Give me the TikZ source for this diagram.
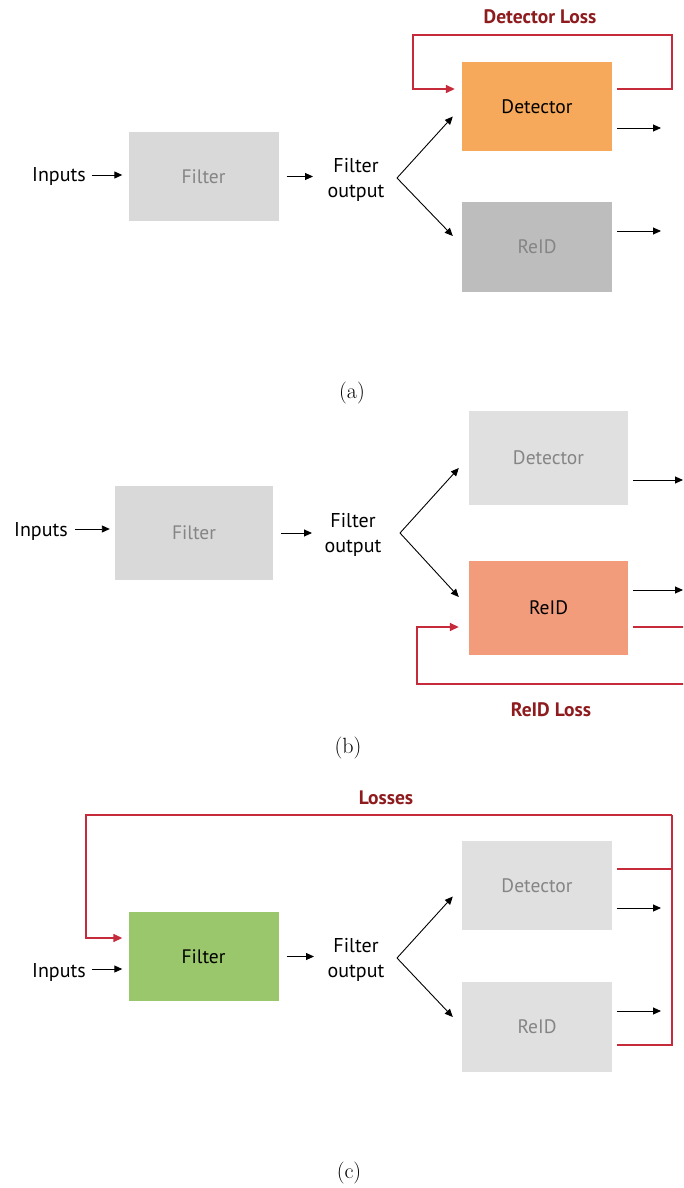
\documentclass[tikz,border=0pt]{standalone}
\usepackage{fontspec}
\newfontfamily\labelfont{PT Sans}
\usetikzlibrary{arrows.meta,calc}
\definecolor{boxgray}{HTML}{D9D9D9}
\definecolor{boxlight}{HTML}{E0E0E0}
\definecolor{boxmid}{HTML}{BDBDBD}
\definecolor{txtgray}{HTML}{858585}
\definecolor{detorange}{HTML}{F6A95A}
\definecolor{reidsalmon}{HTML}{F29C7C}
\definecolor{filtgreen}{HTML}{9BC76C}
\definecolor{lossred}{HTML}{C62B3C}
\definecolor{losslabel}{HTML}{8E1B1E}
\tikzset{
  block/.style={rectangle, draw=none, minimum width=150pt, minimum height=89pt, inner sep=0pt,
                font=\labelfont\fontsize{19.5}{22}\selectfont},
  lbl/.style={inner sep=0pt, font=\labelfont\fontsize{20}{25}\selectfont, align=center},
  losstext/.style={inner sep=0pt, font=\labelfont\bfseries\fontsize{19.5}{22}\selectfont, text=losslabel},
  captext/.style={inner sep=0pt, font=\fontsize{22}{26}\selectfont},
  arr/.style={draw=black, line width=0.9pt, -{Triangle[length=8pt,width=7pt]}},
  branch/.style={draw=black, line width=0.9pt, -{Triangle[length=8pt,width=7pt]}},
  loss/.style={draw=lossred, line width=1.5pt},
  lossarr/.style={draw=lossred, line width=1.5pt, -{Triangle[length=9pt,width=8pt]}},
}
\begin{document}
\begin{tikzpicture}[x=1pt,y=-1pt]
\useasboundingbox (0,0) rectangle (683,1188);

%% ---------------- (a) detector trained ----------------
\node[lbl] (inA) at (59,176) {Inputs};
\node[block, fill=boxgray, text=txtgray] (filA) at (203.5,176.5) {Filter};
\node[lbl] (outA) at (356,179.5) {Filter\\output};
\node[block, fill=detorange, text=black] (detA) at (537,106.5) {Detector};
\node[block, fill=boxmid, minimum height=90pt, text=txtgray] (reidA) at (537,247) {ReID};
\coordinate (brA) at (397,178);
\coordinate (dOutA) at (661,128);
\coordinate (rOutA) at (661,231);
\draw[arr, shorten >=6pt] ([xshift=6pt,yshift=1pt]inA.east) coordinate (sA) -- (sA -| filA.west);
\draw[arr] ([xshift=8pt]filA.east) coordinate (fA) -- (fA -| 313,0);
\draw[branch] (brA) -- ([shift={(-9,10)}]detA.west);
\draw[branch] (brA) -- ([shift={(-9,-11)}]reidA.west);
\draw[arr] (dOutA -| detA.east) ++(5,0) -- (dOutA);
\draw[arr] (rOutA -| reidA.east) ++(5,0) -- (rOutA);
\draw[lossarr] ([shift={(5,-17.5)}]detA.east) -- (672,89) -- (672,35) -- (413,35) -- (413,89)
  -- ([shift={(-7,-17.5)}]detA.west);
\node[losstext] (lossA) at (540,17) {Detector Loss};
\node[captext] (capA) at (352,393) {(a)};

%% ---------------- (b) re-identification trained ----------------
\node[lbl] (inB) at (41,531) {Inputs};
\node[block, fill=boxgray, text=txtgray, minimum width=158pt, minimum height=94pt] (filB) at (194,533) {Filter};
\node[lbl] (outB) at (353,535) {Filter\\output};
\node[block, fill=boxlight, text=txtgray, minimum width=159pt, minimum height=94pt] (detB) at (548.5,458) {Detector};
\node[block, fill=reidsalmon, text=black, minimum width=159pt, minimum height=94pt] (reidB) at (548.5,608) {ReID};
\coordinate (brB) at (400,533);
\coordinate (dOutB) at (683,480);
\coordinate (rOutB) at (683,590);
\draw[arr, shorten >=5pt] ([xshift=7pt,yshift=2pt]inB.east) coordinate (sB) -- (sB -| filB.west);
\draw[arr] ([xshift=8pt]filB.east) coordinate (fB) -- (fB -| 312,0);
\draw[branch] (brB) -- ([shift={(-10,10)}]detB.west);
\draw[branch] (brB) -- ([shift={(-10,-11)}]reidB.west);
\draw[arr] (dOutB -| detB.east) ++(5,0) -- (dOutB);
\draw[arr] (rOutB -| reidB.east) ++(5,0) -- (rOutB);
\begin{scope}
  \clip (0,0) rectangle (683,1188);
  \draw[lossarr] ([shift={(5,19)}]reidB.east) -- (690,627) -- (690,684) -- (417,684) -- (417,627)
    -- ([shift={(-10,19)}]reidB.west);
\end{scope}
\node[losstext] (lossB) at (551,710) {ReID Loss};
\node[captext] (capB) at (348,748) {(b)};

%% ---------------- (c) filter trained ----------------
\node[lbl] (inC) at (59,972) {Inputs};
\node[block, fill=filtgreen, text=black] (filC) at (203.5,956.5) {Filter};
\node[lbl] (outC) at (356,959.5) {Filter\\output};
\node[block, fill=boxlight, text=txtgray] (detC) at (537,885.5) {Detector};
\node[block, fill=boxlight, text=txtgray, minimum height=90pt] (reidC) at (537,1027) {ReID};
\coordinate (brC) at (397,958);
\coordinate (dOutC) at (661,908);
\coordinate (rOutC) at (661,1011);
\coordinate (busC) at (672,815);
\draw[arr, shorten >=6pt] ([xshift=6pt,yshift=3pt]inC.east) coordinate (sC) -- (sC -| filC.west);
\draw[arr] ([xshift=8pt]filC.east) coordinate (fC) -- (fC -| 314,0);
\draw[branch] (brC) -- ([shift={(-9,11)}]detC.west);
\draw[branch] (brC) -- ([shift={(-9,-10)}]reidC.west);
\draw[arr] (dOutC -| detC.east) ++(5,0) -- (dOutC);
\draw[arr] (rOutC -| reidC.east) ++(5,0) -- (rOutC);
\draw[loss] ([shift={(5,-16.5)}]detC.east) -- (672,869);
\draw[loss] ([shift={(5,18)}]reidC.east) -- (672,1045) -- (busC);
\draw[lossarr] (busC) -- (86,815) -- (86,938) -- ([shift={(-6,-18.5)}]filC.west);
\node[losstext] (lossC) at (386,798) {Losses};
\node[captext] (capC) at (349,1173) {(c)};
\end{tikzpicture}
\end{document}
